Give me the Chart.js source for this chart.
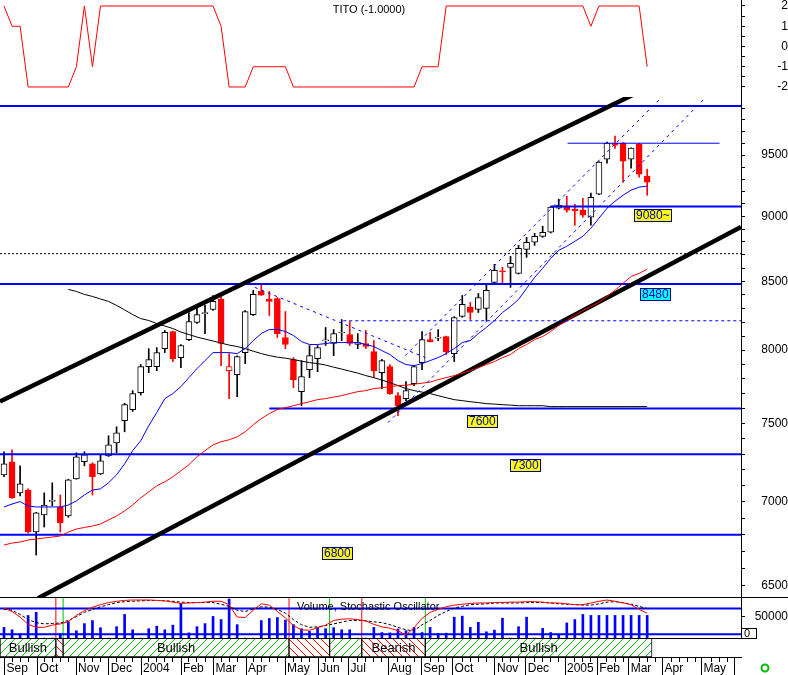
<!DOCTYPE html>
<html>
<head>
<meta charset="utf-8">
<script src="https://cdn.jsdelivr.net/npm/chart.js@4.4.1/dist/chart.umd.min.js"></script>
<style>
  html, body { margin: 0; padding: 0; background: #fff; }
  #wrap { position: relative; width: 788px; height: 675px; overflow: hidden; background: #fff; }
  canvas { position: absolute; left: 0; }
</style>
</head>
<body>
<div id="wrap">
  <canvas id="tito" width="788" height="97" style="top:0px"></canvas>
  <canvas id="main" width="788" height="501" style="top:97px"></canvas>
  <canvas id="vol" width="788" height="42" style="top:597px"></canvas>
  <canvas id="band" width="788" height="37" style="top:638px"></canvas>
</div>
<script>
// weekly candles, Sep 2003 .. Mar 2005 (index = week number)
const opens  = [7168,7251,7055,7073,6816,6919,7002,6968,6913,7143, 7251,7238,7174,7289,7373,7518,7592,7706,7885,7885,
                8011,8133,7948,8075,8198,8262,8292,8366,7857,7830, 7983,8255,8425,8366,8373,8090,7934,7713,7864,7941,
                8066,8047,8122,8111,8040,8047,7990,7843,7885,7686, 7666,7768,7913,8075,8085,8097,7976,8241,8307,8292,
                8300,8492,8578,8606,8560,8743,8798,8844,8876,9066, 9082,9058,9050,8994,9178,9466,9601,9601,9466,9592,
                9326];
const highs  = [7315,7328,7225,7080,6935,7055,7118,7042,7140,7309, 7315,7245,7296,7419,7478,7635,7720,7900,8011,8018,
                8140,8136,8040,8270,8307,8322,8395,8395,7976,7960, 8285,8433,8485,8425,8380,8277,7948,7927,8033,8033,
                8162,8147,8219,8205,8118,8140,8068,7935,7899,7706, 7781,7890,8133,8126,8147,8100,8240,8395,8344,8410,
                8477,8629,8606,8690,8774,8836,8868,8923,9080,9138, 9162,9098,9146,9187,9445,9610,9661,9605,9562,9600,
                9383];
const lows   = [7156,7020,7036,6810,6679,6846,6974,6816,6905,7140, 7225,7042,7170,7285,7309,7445,7580,7690,7843,7857,
                7983,7920,7878,8068,8190,8118,8285,7892,7666,7679, 7906,8248,8395,8248,8090,8011,7740,7618,7809,7850,
                8033,7962,8068,8033,8011,8011,7809,7734,7695,7551, 7652,7754,7864,8058,8068,7969,7920,8235,8219,8270,
                8212,8485,8485,8455,8555,8682,8774,8836,8870,9060, 9034,8931,8994,8931,9175,9433,9556,9277,9392,9317,
                9170];
const closes = [7238,7024,7111,6816,6932,6980,7005,6871,7136,7283, 7296,7156,7257,7360,7439,7625,7700,7885,7934,7983,
                8126,7941,8033,8205,8255,8265,8351,8047,7885,7955, 8277,8403,8398,8351,8118,8040,7795,7816,7962,8018,
                8070,8118,8126,8047,8054,8026,7857,7927,7700,7618, 7720,7885,8075,8061,8090,7990,8234,8329,8270,8380,
                8433,8583,8572,8636,8751,8798,8844,8876,9074,9090, 9050,9045,9010,9154,9441,9601,9584,9450,9559,9342,
                9277];

// moving averages
const maShort = [6968,6986,7001,6974,6968,6968,6968,6968,6980,7005, 7042,7073,7080,7118,7168,7238,7322,7386,7485,7572,
                 7666,7700,7747,7809,7871,7927,7983,7983,7983,7976, 8011,8068,8118,8147,8147,8133,8104,8061,8040,8040,
                 8047,8054,8054,8054,8054,8040,8026,7997,7969,7927, 7899,7892,7906,7927,7948,7976,8011,8054,8068,8118,
                 8162,8212,8270,8314,8366,8448,8530,8598,8674,8736, 8767,8805,8844,8907,8986,9066,9122,9170,9211,9236,
                 9244];
const maMid   = [6738,6750,6756,6768,6774,6780,6786,6792,6816,6834, 6843,6852,6864,6889,6913,6944,6980,7024,7061,7099,
                 7124,7156,7193,7232,7283,7322,7360,7380,7393,7412, 7445,7492,7531,7565,7592,7605,7618,7632,7645,7659,
                 7666,7676,7686,7700,7713,7720,7734,7740,7747,7754, 7757,7764,7771,7778,7795,7809,7823,7840,7857,7878,
                 7899,7920,7948,7969,8011,8040,8075,8097,8133,8176, 8212,8248,8285,8314,8344,8388,8433,8485,8537,8560,
                 8591];
const maLong  = [null,null,null,null,null,null,null,null,8440,8425, 8403,8388,8369,8351,8322,8289,8255,8226,8212,8190,
                 8172,8154,8129,8111,8093,8079,8065,8050,8036,8026, 8011,7993,7976,7962,7951,7944,7934,7923,7913,7906,
                 7896,7881,7868,7854,7840,7823,7809,7792,7775,7754, 7734,7720,7710,7700,7686,7672,7659,7652,7645,7639,
                 7632,7629,7625,7622,7618,7618,7618,7618,7612,7612, 7612,7612,7612,7612,7612,7612,7612,7612,7612,7612,
                 7612];

const tito = [2,1,1,-2,-2,-2,-2,-2,-2,-1, 2,-1,2,2,2,2,2,2,2,2, 2,2,2,2,2,2,2,1,-2,-2,
              -2,-1,-1,-1,-1,-1,-2,-2,-2,-2, -2,-2,-2,-2,-2,-2,-2,-2,-2,-2, -2,-2,-1,-1,-1,2,2,2,2,2,
              2,2,2,2,2,2,2,2,2,2, 2,2,2,1,2,2,2,2,2,2, -1];

const volume = [26300,20900,11600,53500,60500,2000,2000,11600,39500,18600, 34900,41900,25600,2000,27900,55800,20900,2000,23300,29100,
                20900,31400,80700,14000,27900,34900,51200,44200,90700,32600, 2000,2000,41900,46500,48800,43000,32600,23300,17400,25600,
                23300,25600,20900,20900,2000,2000,26300,14700,14000,22600, 18600,26300,14700,26300,12300,13300,49500,51900,26300,37900,
                16300,20200,47200,2000,27900,49500,2000,24000,14700,8600, 36500,44200,55800,53500,53500,53500,53500,53500,53500,53500,
                53500];
const stochK = [81,73,60,43,36,36,41,44,49,64, 75,83,89,94,97,99,100,100,100,99, 98,95,92,93,94,95,97,97,89,60,
                59,76,91,88,73,58,40,30,29,35, 41,52,55,56,54,51,43,37,34,28, 18,35,57,71,78,84,88,90,92,93,
                93,94,94,95,95,96,96,95,93,93, 91,89,89,93,97,100,97,93,89,78, 69];
const stochD = [78,76,66,54,47,44,45,46,52,61, 71,78,84,89,94,96,97,98,99,99, 98,97,95,94,94,94,94,90,85,76,
                73,79,84,83,78,69,54,42,36,37, 40,44,48,52,52,51,49,47,42,36, 30,28,42,52,64,73,81,85,89,90,
                91,93,93,93,93,94,94,94,93,91, 90,89,88,88,91,95,96,94,90,85, 80];

// drawn support / resistance levels
const levels     = [9920, 9080, 8480, 7600, 7300, 6800];
const levelStart = [-0.5, 68, -0.5, 33, -0.5, -0.5];
const dottedLevel = 8710;
const dashedLevel = 8210, dashedStart = 42.2;
const peakLevel = 9600, peakFrom = 70.1, peakTo = 89;
const tagText  = ['9080~', '8480', '7600', '7300', '6800'];
const tagValue = [9080, 8480, 7600, 7300, 6800];

// trend channels: [week, price] end points
const upperTrend = [[-0.5, 7647], [78.2, 10017]];
const lowerTrend = [[4.23, 6430], [91.67, 8917]];
const channelA = [[49.9, 7962], [81.6, 9983]];
const channelB = [[47.76, 7505], [87.56, 10017]];
const channelC = [[31.2, 8455], [52.4, 7948]];

// trend bands
const bandStart = [-0.5, 6.45, 7.35, 35.45, 40.5, 44.5, 52.4];
const bandEnd   = [6.45, 7.35, 35.45, 40.5, 44.5, 52.4, 80.6];
const bandTrend = ['bull', 'bear', 'bull', 'bear', 'bull', 'bear', 'bull'];
const bandText  = ['Bullish', '', 'Bullish', '', '', 'Bearish', 'Bullish'];

// axes
const priceTicks = [6500,6600,6700,6800,6900,7000,7100,7200,7300,7400,7500,7600,7700,7800,7900,8000,8100,8200,
                    8300,8400,8500,8600,8700,8800,8900,9000,9100,9200,9300,9400,9500,9600,9700,9800,9900];
const titoTicks = [2, 1.5, 1, 0.5, 0, -0.5, -1, -1.5, -2];
const monthPos = [0.06,4.17,8.96,13.02,17.04,22.02,26.06,30.1,34.95,39.1,42.85,47.8,51.9,55.8,61.07,64.9,69.78,73.8,77.7,81.9,86.75,90.9];
const monthLabels = ['Sep','Oct','Nov','Dec','2004','Feb','Mar','Apr','May','Jun','Jul','Aug','Sep','Oct','Nov','Dec','2005','Feb','Mar','Apr','May',''];

const X_MIN = -0.5, X_MAX = 91.67;
const RED = '#ff0000', BLUE = '#0000ff', GREEN = '#00c000';
const FONT = '"Liberation Sans", Arial, sans-serif';

Chart.defaults.font.family = FONT;
Chart.defaults.font.size = 12;
Chart.defaults.color = '#000';

const base = {
  responsive: false,
  devicePixelRatio: 1,
  animation: false,
  events: [],
  layout: { padding: 0 },
  plugins: { legend: { display: false }, tooltip: { enabled: false } }
};
const xHidden = { type: 'linear', min: X_MIN, max: X_MAX, offset: false, display: false };
// right axis: fixed 47px wide, no extra vertical padding from the tick labels
const fixWidth = s => { s.width = 47; s.paddingTop = 0; s.paddingBottom = 0; };

const pts = pairs => pairs.map(p => ({ x: p[0], y: p[1] }));
const series = arr => arr.map((v, i) => ({ x: i, y: v })).filter(p => p.y !== null);
const line = (data, color, width, extra) => Object.assign({
  type: 'line', data, borderColor: color, borderWidth: width, pointRadius: 0, fill: false, clip: 0, order: 1
}, extra || {});

// ---------- TITO ----------
new Chart(document.getElementById('tito'), {
  type: 'line',
  data: { datasets: [line(series(tito), RED, 1)] },
  options: Object.assign({}, base, {
    scales: {
      x: xHidden,
      y: {
        position: 'right', min: -2.494, max: 2.296,
        afterFit: fixWidth,
        afterBuildTicks: s => { s.ticks = titoTicks.map(v => ({ value: v })); },
        ticks: { autoSkip: false, crossAlign: 'far', padding: 21, callback: v => Number.isInteger(v) ? String(v) : '' },
        grid: { drawOnChartArea: false, tickLength: 4, tickColor: '#000' },
        border: { color: '#000' }
      }
    }
  }),
  plugins: [{
    id: 'titoTitle',
    afterDraw(chart) {
      const ctx = chart.ctx;
      ctx.save();
      ctx.font = '11px ' + FONT;
      ctx.fillStyle = '#000';
      ctx.textAlign = 'center';
      ctx.textBaseline = 'middle';
      ctx.fillText('TITO (' + tito[tito.length - 1].toFixed(4) + ')', 369, 10);
      ctx.restore();
    }
  }]
});

// ---------- price panel ----------
const candleColor = closes.map((c, i) => (i > 0 && c < closes[i - 1]) ? RED : '#000');
const bodyFill = closes.map((c, i) => c < opens[i] ? candleColor[i] : '#fff');

const mainSets = [
  { type: 'bar', data: closes.map((c, i) => ({ x: i, y: [opens[i], c] })),
    backgroundColor: bodyFill, borderColor: candleColor, borderWidth: 1, borderSkipped: false,
    barThickness: 6, grouped: false, minBarLength: 1, order: 5 },
  { type: 'bar', data: highs.map((h, i) => ({ x: i, y: [lows[i], h] })),
    backgroundColor: candleColor, borderWidth: 0, barThickness: 1, grouped: false, order: 6 },
  line(series(maShort), BLUE, 1, { order: 2 }),
  line(series(maMid), RED, 1, { order: 2 }),
  line(series(maLong), '#000', 1, { order: 2 }),
  line(pts(upperTrend), '#000', 4.5, { order: 3 }),
  line(pts(lowerTrend), '#000', 4.5, { order: 3 }),
  line(pts(channelA), BLUE, 1, { borderDash: [3, 4] }),
  line(pts(channelB), BLUE, 1, { borderDash: [3, 4] }),
  line(pts(channelC), BLUE, 1, { borderDash: [3, 4] }),
  line([{ x: X_MIN, y: dottedLevel }, { x: X_MAX, y: dottedLevel }], '#000', 1, { borderDash: [2, 2] }),
  line([{ x: dashedStart, y: dashedLevel }, { x: X_MAX, y: dashedLevel }], BLUE, 1, { borderDash: [3, 3] }),
  line([{ x: peakFrom, y: peakLevel }, { x: peakTo, y: peakLevel }], BLUE, 1)
];
levels.forEach((v, k) => {
  mainSets.push(line([{ x: levelStart[k], y: v }, { x: X_MAX, y: v }], BLUE, 2, { order: 4 }));
});

const tagAt = [78.36, 79.1, 57.6, 62.9, 39.5];
const tagDy = [3, 4, 7, 5, 12];
const tagBg = ['#ffff00', '#00ffff', '#ffff00', '#ffff00', '#ffff00'];

new Chart(document.getElementById('main'), {
  type: 'bar',
  data: { datasets: mainSets },
  options: Object.assign({}, base, {
    scales: {
      x: xHidden,
      y: {
        type: 'logarithmic', position: 'right', min: 6431, max: 9999,
        afterFit: fixWidth,
        afterBuildTicks: s => { s.ticks = priceTicks.map(v => ({ value: v })); },
        ticks: { autoSkip: false, crossAlign: 'far', padding: 12, callback: v => v % 500 === 0 ? String(v) : '' },
        grid: { drawOnChartArea: false, tickLength: 4, tickColor: '#000' },
        border: { color: '#000' }
      }
    }
  }),
  plugins: [{
    id: 'levelTags',
    afterDatasetsDraw(chart) {
      const { ctx, scales } = chart;
      ctx.save();
      ctx.font = '12px ' + FONT;
      ctx.textBaseline = 'middle';
      ctx.textAlign = 'left';
      tagText.forEach((t, k) => {
        const w = Math.round(ctx.measureText(t).width) + 4;
        const left = Math.round(scales.x.getPixelForValue(tagAt[k]));
        const top = Math.round(scales.y.getPixelForValue(tagValue[k])) + tagDy[k];
        ctx.fillStyle = tagBg[k];
        ctx.fillRect(left, top, w, 13);
        ctx.strokeStyle = '#000080';
        ctx.lineWidth = 1;
        ctx.strokeRect(left + 0.5, top + 0.5, w - 1, 12);
        ctx.fillStyle = '#0000c0';
        ctx.fillText(t, left + 2, top + 7);
      });
      ctx.restore();
    }
  }]
});

// ---------- volume / stochastic ----------
const STOCH_MIN = 8.6, STOCH_MAX = 107;
const volSets = [
  line(series(stochK), RED, 1, { yAxisID: 'ys', order: 1 }),
  line(series(stochD), '#000', 1, { yAxisID: 'ys', borderDash: [3, 2], order: 1 }),
  line([{ x: X_MIN, y: 80 }, { x: X_MAX, y: 80 }], BLUE, 2, { yAxisID: 'ys', order: 2 }),
  line([{ x: X_MIN, y: 20 }, { x: X_MAX, y: 20 }], BLUE, 2, { yAxisID: 'ys', order: 2 }),
  { type: 'bar', data: series(volume), yAxisID: 'yv', backgroundColor: BLUE, barThickness: 2, grouped: false, order: 5 }
];
bandStart.slice(1).forEach((b, k) => {
  const c = bandTrend[k + 1] === 'bull' ? GREEN : RED;
  volSets.push(line([{ x: b, y: STOCH_MIN }, { x: b, y: STOCH_MAX }], c, 1, { yAxisID: 'ys', order: 3 }));
});

new Chart(document.getElementById('vol'), {
  type: 'bar',
  data: { datasets: volSets },
  options: Object.assign({}, base, {
    scales: {
      x: xHidden,
      yv: {
        position: 'right', min: 0, max: 95350,
        afterFit: fixWidth,
        afterBuildTicks: s => { s.ticks = [{ value: 50000 }]; },
        ticks: { autoSkip: false, crossAlign: 'far', padding: 5, callback: v => String(v) },
        grid: { drawOnChartArea: false, tickLength: 4, tickColor: '#000' },
        border: { color: '#000' }
      },
      ys: { display: false, min: STOCH_MIN, max: STOCH_MAX }
    }
  }),
  plugins: [{
    id: 'volFrame',
    afterDraw(chart) {
      const ctx = chart.ctx;
      ctx.save();
      ctx.strokeStyle = '#000';
      ctx.lineWidth = 1;
      ctx.beginPath();
      ctx.moveTo(0, 0.5); ctx.lineTo(788, 0.5);
      ctx.stroke();
      ctx.strokeRect(741.5, 31.5, 15, 10);
      ctx.font = '11px ' + FONT;
      ctx.fillStyle = '#000';
      ctx.textBaseline = 'middle';
      ctx.textAlign = 'left';
      ctx.fillText('Volume, Stochastic Oscillator', 297, 9.5);
      ctx.fillText('0', 744, 36.5);
      ctx.restore();
    }
  }]
});

// ---------- trend band + date axis ----------
function hatch(color, up) {
  const c = document.createElement('canvas');
  c.width = 8; c.height = 8;
  const g = c.getContext('2d');
  g.fillStyle = '#fff';
  g.fillRect(0, 0, 8, 8);
  g.strokeStyle = color;
  g.lineWidth = 1;
  g.beginPath();
  if (up) {
    g.moveTo(-1, 9); g.lineTo(9, -1);
    g.moveTo(-1, 1); g.lineTo(1, -1);
    g.moveTo(7, 9); g.lineTo(9, 7);
  } else {
    g.moveTo(-1, -1); g.lineTo(9, 9);
    g.moveTo(-1, 7); g.lineTo(1, 9);
    g.moveTo(7, -1); g.lineTo(9, 1);
  }
  g.stroke();
  return g.createPattern(c, 'repeat');
}
const bullPat = hatch(GREEN, true);
const bearPat = hatch(RED, false);

const weekTicks = [];
for (let w = 0; w <= 91; w++) weekTicks.push(w);
const axisTicks = weekTicks.filter(w => monthPos.every(m => Math.abs(m - w) > 0.3))
  .concat(monthPos).sort((a, b) => a - b);
const monthLabel = v => {
  const k = monthPos.indexOf(v);
  return k >= 0 ? monthLabels[k] : '';
};

new Chart(document.getElementById('band'), {
  type: 'bar',
  data: {
    labels: ['t'],
    datasets: [{
      data: bandStart.map((s, k) => ({ x: [s, bandEnd[k]], y: 't' })),
      backgroundColor: bandTrend.map(t => t === 'bull' ? bullPat : bearPat),
      borderColor: '#000', borderWidth: 1, borderSkipped: false,
      barThickness: 19, grouped: false
    }]
  },
  options: Object.assign({}, base, {
    indexAxis: 'y',
    layout: { padding: { right: 47 } },
    scales: {
      y: { type: 'category', labels: ['t'], display: false, offset: true },
      x: {
        type: 'linear', position: 'bottom', min: X_MIN, max: X_MAX, offset: false, beginAtZero: false,
        afterFit: s => { s.height = 18; s.paddingLeft = 0; s.paddingRight = 0; },
        afterBuildTicks: s => { s.ticks = axisTicks.map(v => ({ value: v })); },
        ticks: { autoSkip: false, maxRotation: 0, minRotation: 0, align: 'start', labelOffset: 2, padding: -14,
                 callback: v => monthLabel(v) },
        grid: {
          drawOnChartArea: false, drawTicks: true, tickLength: 18, tickColor: '#000', tickWidth: 1,
          tickBorderDash: ctx => (ctx.tick && monthPos.indexOf(ctx.tick.value) >= 0) ? [] : [4, 40]
        },
        border: { display: true, color: '#000' }
      }
    }
  }),
  plugins: [{
    id: 'bandText',
    afterDatasetsDraw(chart) {
      const { ctx, scales, chartArea } = chart;
      ctx.save();
      ctx.strokeStyle = '#000';
      ctx.lineWidth = 1;
      ctx.beginPath();
      ctx.moveTo(0, 0.5); ctx.lineTo(741, 0.5);
      ctx.stroke();
      ctx.font = '13px ' + FONT;
      ctx.fillStyle = '#000';
      ctx.textAlign = 'center';
      ctx.textBaseline = 'middle';
      bandText.forEach((t, k) => {
        if (!t) return;
        const cx = (scales.x.getPixelForValue(bandStart[k]) + scales.x.getPixelForValue(bandEnd[k])) / 2;
        ctx.fillText(t, cx, (chartArea.top + chartArea.bottom) / 2 + 1);
      });
      ctx.strokeStyle = GREEN;
      ctx.lineWidth = 2;
      ctx.beginPath();
      ctx.arc(765, 30, 3.5, 0, Math.PI * 2);
      ctx.stroke();
      ctx.restore();
    }
  }]
});
</script>
</body>
</html>
